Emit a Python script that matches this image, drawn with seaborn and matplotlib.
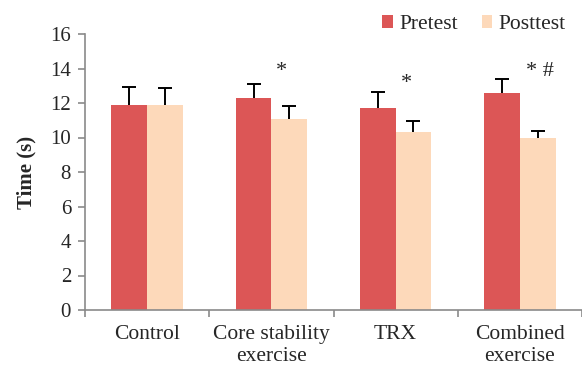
import matplotlib
matplotlib.use("Agg")
import matplotlib.pyplot as plt
import seaborn as sns
import pandas as pd
import numpy as np
from matplotlib.ticker import FixedLocator

groups = ["Control", "Core stability\nexercise", "TRX", "Combined\nexercise"]
pretest = [11.9, 12.3, 11.7, 12.6]
posttest = [11.9, 11.05, 10.3, 10.0]
pre_err = [1.05, 0.8, 0.95, 0.8]
post_err = [0.95, 0.75, 0.65, 0.35]
annotations = ["", "*", "*", "* #"]
yticks = [0, 2, 4, 6, 8, 10, 12, 14, 16]

sns.set_style("white")
plt.rcParams['font.family'] = ['Liberation Serif', 'DejaVu Serif']

df = pd.DataFrame({
    "group": groups * 2,
    "time": ["Pretest"] * 4 + ["Posttest"] * 4,
    "value": pretest + posttest,
    "err": pre_err + post_err,
})

fig = plt.figure(figsize=(5.82, 3.65), dpi=100)
ax = fig.add_axes([85/582, 55/365, 497/582, 276/365])

palette = {"Pretest": "#DC5656", "Posttest": "#FDD9BA"}
sns.barplot(data=df, x="group", y="value", hue="time", palette=palette,
            errorbar=None, width=0.575, gap=0, ax=ax, saturation=1, linewidth=0)

# error bars (upper only) from bar positions
bars = [p for p in ax.patches if p.get_height() > 0]
bars = sorted(bars, key=lambda p: p.get_x())
errs = []
for i in range(4):
    errs += [pre_err[i], post_err[i]]
for p, e in zip(bars, errs):
    xc = p.get_x() + p.get_width() / 2
    h = p.get_height()
    line, caps, barlines = ax.errorbar([xc], [h], yerr=[[0], [e]], fmt="none", ecolor="black",
                                       elinewidth=1.4, capsize=5, capthick=1.4)
    # keep only the upper cap
    if len(caps) == 2:
        caps[0].set_visible(False)

# significance annotations
ann_y = [0, 13.85, 13.15, 13.85]
ann_dx = [0, 0.08, 0.09, 0.16]
for i, t in enumerate(annotations):
    if t:
        ax.text(i + ann_dx[i], ann_y[i], t, ha="center", va="center", fontsize=16)

ax.set_ylim(0, 16)
ax.set_xlim(-0.5, 3.5)
ax.set_yticks(yticks)
ax.set_yticklabels([str(v) for v in yticks], fontsize=15)
ax.set_xticks(range(4))
ax.set_xticklabels(groups, fontsize=15.5, linespacing=1.2)
ax.xaxis.set_minor_locator(FixedLocator([-0.5, 0.5, 1.5, 2.5, 3.5]))
ax.tick_params(axis="x", which="major", length=0, pad=11)
ax.tick_params(axis="x", which="minor", length=5, width=1.2, color="#8a8a8a", direction="out", bottom=True)
ax.tick_params(axis="y", length=5, width=1.2, color="#8a8a8a", direction="out", left=True, pad=5)
ax.set_xlabel("")
ax.set_ylabel("Time (s)", fontsize=15, fontweight="bold", labelpad=10)

for s in ["top", "right"]:
    ax.spines[s].set_visible(False)
for s in ["left", "bottom"]:
    ax.spines[s].set_color("#8a8a8a")
    ax.spines[s].set_linewidth(1.2)

leg = ax.legend(loc="upper right", bbox_to_anchor=(0.985, 1.1), ncol=2, frameon=False,
                fontsize=15.5, handlelength=0.5, handleheight=0.5, handletextpad=0.3,
                columnspacing=1.1, borderaxespad=0)

fig.savefig("out.png", dpi=100)
